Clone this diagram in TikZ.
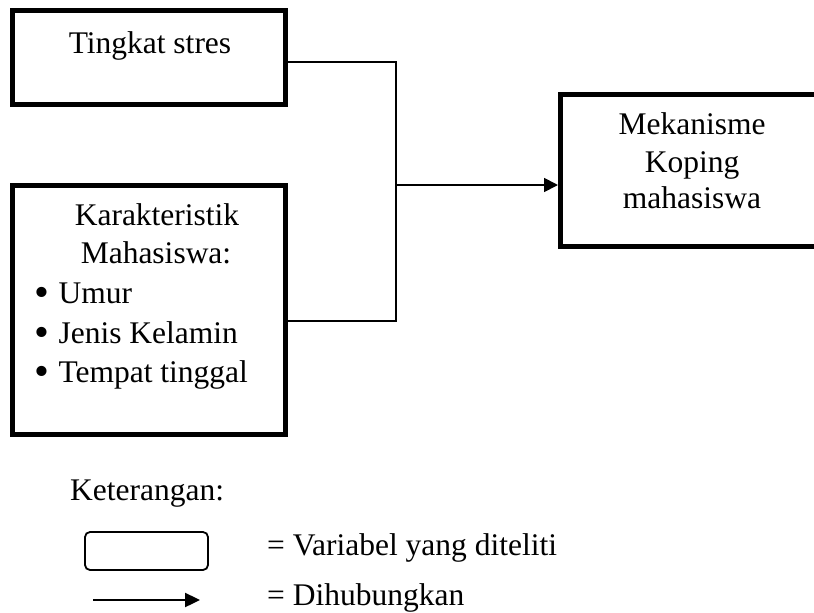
\documentclass[tikz,border=0pt]{standalone}
\usepackage{graphicx}
\usepackage{fontspec}
\setmainfont{Liberation Serif}
\usetikzlibrary{arrows.meta}
\newcommand{\bigbul}{\smash{\raisebox{-0.1em}{\scalebox{1.35}{•}}}\hspace{0.3em}}
\begin{document}
\begin{tikzpicture}[x=1pt,y=-1pt,
  varbox/.style={draw=black,fill=white,line width=5pt,minimum width=#1,inner sep=0pt},
  lbl/.style={inner sep=0pt,font=\fontsize{31.5}{38}\selectfont},
  conn/.style={line width=1.8pt},
  arr/.style={conn,-{Triangle[length=14pt,width=14pt]}}]
\useasboundingbox (0,0) rectangle (814,613);
% boxes
\node[varbox=273pt,minimum height=94pt] (b1) at (149,57.5) {};
\node[varbox=273pt,minimum height=249pt] (b2) at (149,310) {};
\node[varbox=280pt,minimum height=151.5pt] (b3) at (700.5,170.25) {};
% texts
\node[lbl,anchor=base] (t1) at (150,53) {Tingkat stres};
\node[lbl,anchor=base] (k1) at (157,225) {Karakteristik};
\node[lbl,anchor=base] (k2) at (156,263) {Mahasiswa:};
\node[lbl,anchor=base west] (k3) at (34,303) {\bigbul Umur};
\node[lbl,anchor=base west] (k4) at (34,343) {\bigbul Jenis Kelamin};
\node[lbl,anchor=base west] (k5) at (34,382) {\bigbul Tempat tinggal};
\node[lbl,anchor=base] (m1) at (692,134) {Mekanisme};
\node[lbl,anchor=base] (m2) at (692,172) {Koping};
\node[lbl,anchor=base] (m3) at (692,208) {mahasiswa};
% connectors
\coordinate (jtop) at (396,62);
\coordinate (jbot) at (396,321);
\coordinate (jmid) at (396,185);
\draw[conn] (b1.east |- jtop) -- (jtop) -- (jbot) -- (b2.east |- jbot);
\draw[arr] (jmid) -- (b3.west |- jmid);
% legend
\node[lbl,anchor=base west] (ket) at (70,500) {Keterangan:};
\node[draw=black,line width=1.8pt,rounded corners=5pt,minimum width=123pt,minimum height=38pt,inner sep=0pt] (lb) at (146.5,551) {};
\coordinate (la1) at (93,600);
\coordinate (la2) at (200,600);
\draw[line width=2.4pt,-{Triangle[length=15pt,width=14pt]}] (la1) -- (la2);
\node[lbl,anchor=base west] (l1) at (267,555) {= Variabel yang diteliti};
\node[lbl,anchor=base west] (l2) at (267,605) {= Dihubungkan};
\end{tikzpicture}
\end{document}
